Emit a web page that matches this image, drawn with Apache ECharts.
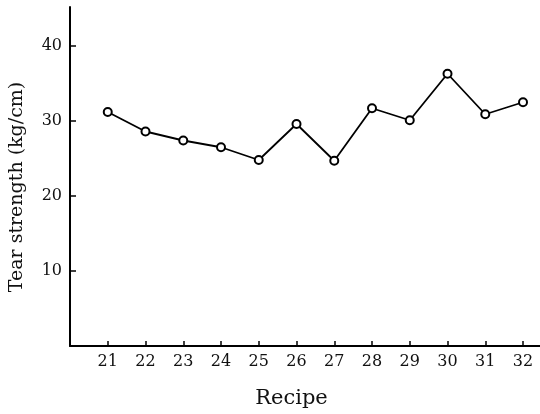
<!DOCTYPE html>
<html>
<head>
<meta charset="utf-8">
<script src="https://cdn.jsdelivr.net/npm/echarts@6/dist/echarts.min.js"></script>
<style>html,body{margin:0;padding:0;background:#fff;}#c{width:540px;height:414px;}</style>
</head>
<body>
<div id="c"></div>
<script>
const recipes = [21, 22, 23, 24, 25, 26, 27, 28, 29, 30, 31, 32];
const tearStrength = [31.2, 28.6, 27.4, 26.5, 24.8, 29.6, 24.7, 31.7, 30.1, 36.3, 30.9, 32.5];
const yTicks = [10, 20, 30, 40];
const xTitle = 'Recipe';
const yTitle = 'Tear strength (kg/cm)';

const font = '"DejaVu Serif", "Liberation Serif", serif';
const chart = echarts.init(document.getElementById('c'), null, {renderer: 'canvas'});
chart.setOption({
  animation: false,
  backgroundColor: '#fff',
  grid: {left: 70, right: 0, top: 7, bottom: 68, containLabel: false, outerBoundsMode: 'none'},
  xAxis: {
    type: 'value', min: 20, max: 32.45, interval: 1,
    name: xTitle, nameLocation: 'middle', nameGap: 42,
    nameTextStyle: {fontFamily: font, fontSize: 21, color: '#111', padding: [0, 27, 0, 0]},
    axisLine: {show: true, lineStyle: {color: '#000', width: 2}},
    axisTick: {show: true, inside: true, length: 5, lineStyle: {color: '#000', width: 1.5}},
    axisLabel: {fontFamily: font, fontSize: 16, color: '#111', margin: 8,
      formatter: v => recipes.indexOf(v) >= 0 ? String(v) : '', showMaxLabel: false},
    splitLine: {show: false}
  },
  yAxis: {
    type: 'value', min: 0, max: 45.2, interval: 10,
    name: yTitle, nameLocation: 'middle', nameGap: 43, nameRotate: 90,
    nameTextStyle: {fontFamily: font, fontSize: 19, color: '#111', padding: [0, 21, 0, 0]},
    axisLine: {show: true, lineStyle: {color: '#000', width: 2}},
    axisTick: {show: true, inside: true, length: 6, lineStyle: {color: '#000', width: 1.5}},
    axisLabel: {fontFamily: font, fontSize: 16, color: '#111', margin: 8,
      formatter: v => yTicks.indexOf(v) >= 0 ? String(v) : '', showMaxLabel: false},
    splitLine: {show: false}
  },
  series: [{
    type: 'line',
    data: recipes.map((r, i) => [r, tearStrength[i]]),
    symbol: 'emptyCircle', symbolSize: 8,
    lineStyle: {color: '#000', width: 1.8},
    itemStyle: {color: '#000', borderColor: '#000', borderWidth: 2.2}
  }]
});
</script>
</body>
</html>
